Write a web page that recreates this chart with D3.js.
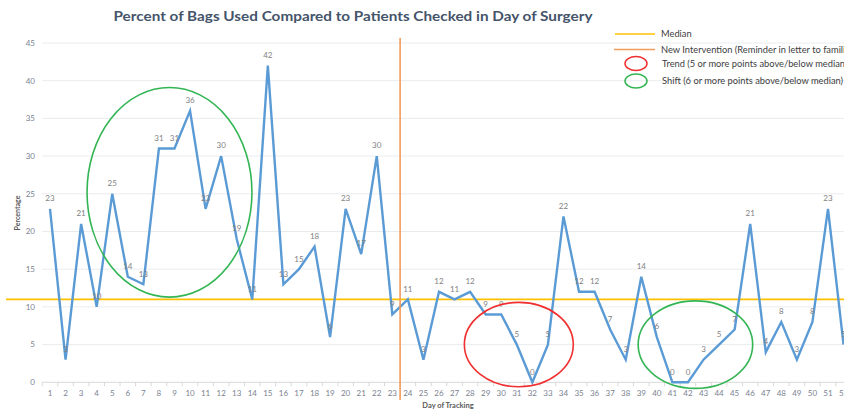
<!DOCTYPE html>
<html><head><meta charset="utf-8">
<script src="https://cdn.jsdelivr.net/npm/d3@7"></script>
<style>
html,body{margin:0;padding:0;background:#fff;overflow:hidden;}
svg{display:block;}
</style></head>
<body>
<svg id="chart" width="844" height="409"></svg>
<script>
const title = "Percent of Bags Used Compared to Patients Checked in Day of Surgery";
const days = [1,2,3,4,5,6,7,8,9,10,11,12,13,14,15,16,17,18,19,20,21,22,23,24,25,26,27,28,29,30,31,32,33,34,35,36,37,38,39,40,41,42,43,44,45,46,47,48,49,50,51,52];
const percentages = [23,3,21,10,25,14,13,31,31,36,23,30,19,11,42,13,15,18,6,23,17,30,9,11,3,12,11,12,9,9,5,0,5,22,12,12,7,3,14,6,0,0,3,5,7,21,4,8,3,8,23,5];
const yTicks = [0,5,10,15,20,25,30,35,40,45];
const medianValue = 11;
const interventionAfterDay = 23.5;
const legendLabels = ["Median","New Intervention (Reminder in letter to families)","Trend (5 or more points above/below median)","Shift (6 or more points above/below median)"];
// annotation ellipses in data units
const annotationDays = [8.68, 31.13, 42.48];
const annotationValues = [25.2, 5.0, 5.0];
const annotationHalfDays = [5.3, 3.5, 3.68];
const annotationHalfValues = [13.9, 5.6, 5.8];
const annotationKinds = ["shift","trend","shift"];

const svg = d3.select("#chart");
const step = 15.56;
const x = d3.scaleLinear().domain([1,52]).range([50, 50 + 51*step]);
const y = d3.scaleLinear().domain([0,45]).range([382.3, 43]);
const colors = {line:"#5B9BD5", median:"#FFC000", intervention:"#F29C5C", trend:"#F03030", shift:"#33B554"};
const font = "Lato, 'Open Sans', sans-serif";

// gridlines
svg.append("g").selectAll("line").data(yTicks.filter(d=>d>0)).join("line")
  .attr("x1",42).attr("x2",844).attr("y1",d=>y(d)).attr("y2",d=>y(d))
  .attr("stroke","#E9ECEF").attr("stroke-width",1);
// y labels
svg.append("g").selectAll("text").data(yTicks).join("text")
  .attr("x",35).attr("y",d=>y(d)).attr("dy","0.35em").attr("text-anchor","end")
  .attr("font-family",font).attr("font-size",8).attr("fill","#7B8290")
  .text(d=>d);
// x axis line
svg.append("line").attr("x1",42).attr("x2",844).attr("y1",y(0)).attr("y2",y(0)).attr("stroke","#D9D9D9");
svg.append("g").selectAll("line").data(days).join("line")
  .attr("x1",d=>x(d)-step/2).attr("x2",d=>x(d)-step/2).attr("y1",y(0)).attr("y2",y(0)+4)
  .attr("stroke","#D9D9D9");
svg.append("g").selectAll("text").data(days).join("text")
  .attr("x",d=>x(d)).attr("y",393).attr("dy","0.35em").attr("text-anchor","middle")
  .attr("font-family",font).attr("font-size",8).attr("fill","#7B8290")
  .text(d=>d);

// median line
svg.append("line").attr("x1",6).attr("x2",844).attr("y1",y(medianValue)).attr("y2",y(medianValue))
  .attr("stroke",colors.median).attr("stroke-width",1.8);

// data line
const pts = days.map((d,i)=>[d,percentages[i]]);
svg.append("path").datum(pts)
  .attr("d", d3.line().x(d=>x(d[0])).y(d=>y(d[1])))
  .attr("fill","none").attr("stroke",colors.line).attr("stroke-width",2.4).attr("stroke-linejoin","miter");

// intervention line
svg.append("line").attr("x1",x(interventionAfterDay)).attr("x2",x(interventionAfterDay))
  .attr("y1",38).attr("y2",400).attr("stroke",colors.intervention).attr("stroke-width",1.6);

// data labels
svg.append("g").selectAll("text").data(pts).join("text")
  .attr("x",d=>x(d[0])).attr("y",d=>y(d[1])-10.5).attr("dy","0.35em").attr("text-anchor","middle")
  .attr("font-family",font).attr("font-size",8).attr("fill","#7F7F7F")
  .text(d=>d[1]);

// annotation ellipses
svg.append("g").selectAll("ellipse").data(annotationDays).join("ellipse")
  .attr("cx",d=>x(d))
  .attr("cy",(d,i)=>y(annotationValues[i]))
  .attr("rx",(d,i)=>x(d+annotationHalfDays[i])-x(d))
  .attr("ry",(d,i)=>y(0)-y(annotationHalfValues[i]))
  .attr("fill","none").attr("stroke",(d,i)=>colors[annotationKinds[i]]).attr("stroke-width",1.6);

// title
svg.append("text").attr("x",353).attr("y",21).attr("text-anchor","middle")
  .attr("font-family",font).attr("font-weight","bold").attr("font-size",13.5)
  .attr("fill","#44546A").attr("textLength",479).attr("lengthAdjust","spacingAndGlyphs").text(title);

// axis titles
svg.append("text").attr("x",448).attr("y",405).attr("dy","0.35em").attr("text-anchor","middle")
  .attr("font-family",font).attr("font-weight","bold").attr("font-size",7.5)
  .attr("fill","#595959").text("Day of Tracking");
svg.append("text").attr("transform","translate(18,213) rotate(-90)").attr("dy","0.35em").attr("text-anchor","middle")
  .attr("font-family",font).attr("font-weight","bold").attr("font-size",7)
  .attr("fill","#595959").text("Percentage");

// legend
const lg = svg.append("g").attr("font-family",font).attr("font-size",9.3).attr("fill","#404040");
const ly = [34, 49.5, 63.5, 81];
lg.append("line").attr("x1",615).attr("x2",655).attr("y1",ly[0]).attr("y2",ly[0]).attr("stroke",colors.median).attr("stroke-width",1.6);
lg.append("line").attr("x1",614).attr("x2",655).attr("y1",ly[1]).attr("y2",ly[1]).attr("stroke",colors.intervention).attr("stroke-width",1.6);
lg.append("ellipse").attr("cx",636).attr("cy",ly[2]).attr("rx",11).attr("ry",7).attr("fill","none").attr("stroke",colors.trend).attr("stroke-width",1.5);
lg.append("ellipse").attr("cx",636).attr("cy",ly[3]).attr("rx",11).attr("ry",7).attr("fill","none").attr("stroke",colors.shift).attr("stroke-width",1.5);
lg.selectAll("text").data(legendLabels).join("text")
  .attr("x",(d,i)=>i<2?661:662).attr("y",(d,i)=>ly[i]).attr("dy","0.35em").text(d=>d);
</script>
</body></html>
